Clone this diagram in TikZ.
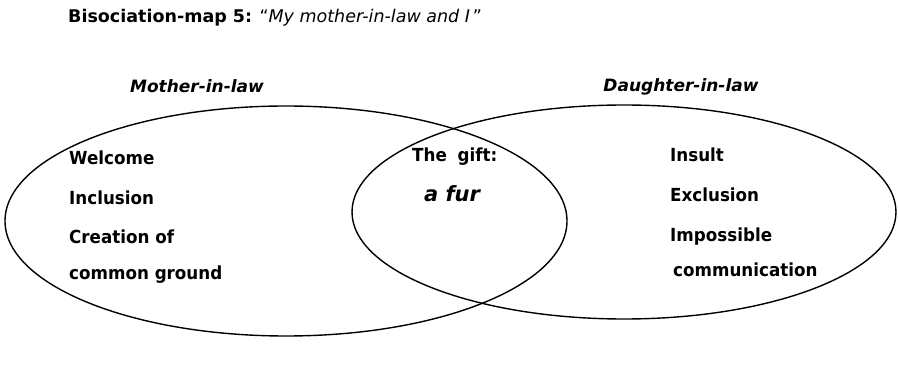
\documentclass[tikz,border=0pt]{standalone}
\usepackage{fontspec}
\setmainfont{DejaVu Sans}
\newfontfamily\condfont[FakeStretch=0.93]{DejaVu Sans}
\usetikzlibrary{shapes.geometric}
\begin{document}
\begin{tikzpicture}[x=1pt,y=-1pt,
  lbl/.style={anchor=base west, inner sep=0pt, font=\condfont\fontsize{18}{20}\selectfont\bfseries},
  head/.style={anchor=base, inner sep=0pt, font=\fontsize{17}{20}\selectfont\bfseries\itshape},
  set/.style={draw, ellipse, line width=1.4pt, inner sep=0pt}]
\useasboundingbox (0,0) rectangle (898,371);
\node[anchor=base west, inner sep=0pt, font=\fontsize{17.5}{20}\selectfont] (title) at (68,22.5)
  {\textbf{Bisociation-map 5:} “\textit{My mother-in-law and I}\,”};
\node[set, minimum width=562pt, minimum height=230pt] (mil) at (286,221) {};
\node[set, minimum width=544pt, minimum height=214pt] (dil) at (624,212) {};
\node[head] (hm) at (197,93) {Mother-in-law};
\node[head] (hd) at (681,92) {Daughter-in-law};
\node[lbl] (w) at (69,165) {Welcome};
\node[lbl] (i) at (69,205) {Inclusion};
\node[lbl] (c) at (69,244) {Creation of};
\node[lbl] (cg) at (69,280) {common ground};
\node[lbl] (g) at (412,162) {The\hspace{5pt} gift:};
\node[anchor=base, inner sep=0pt, font=\fontsize{21}{24}\selectfont\bfseries\itshape] (f) at (452,202) {a fur};
\node[lbl] (ins) at (670,162) {Insult};
\node[lbl] (ex) at (670,202) {Exclusion};
\node[lbl] (im) at (670,242) {Impossible};
\node[lbl] (co) at (673,277) {communication};
\end{tikzpicture}
\end{document}
